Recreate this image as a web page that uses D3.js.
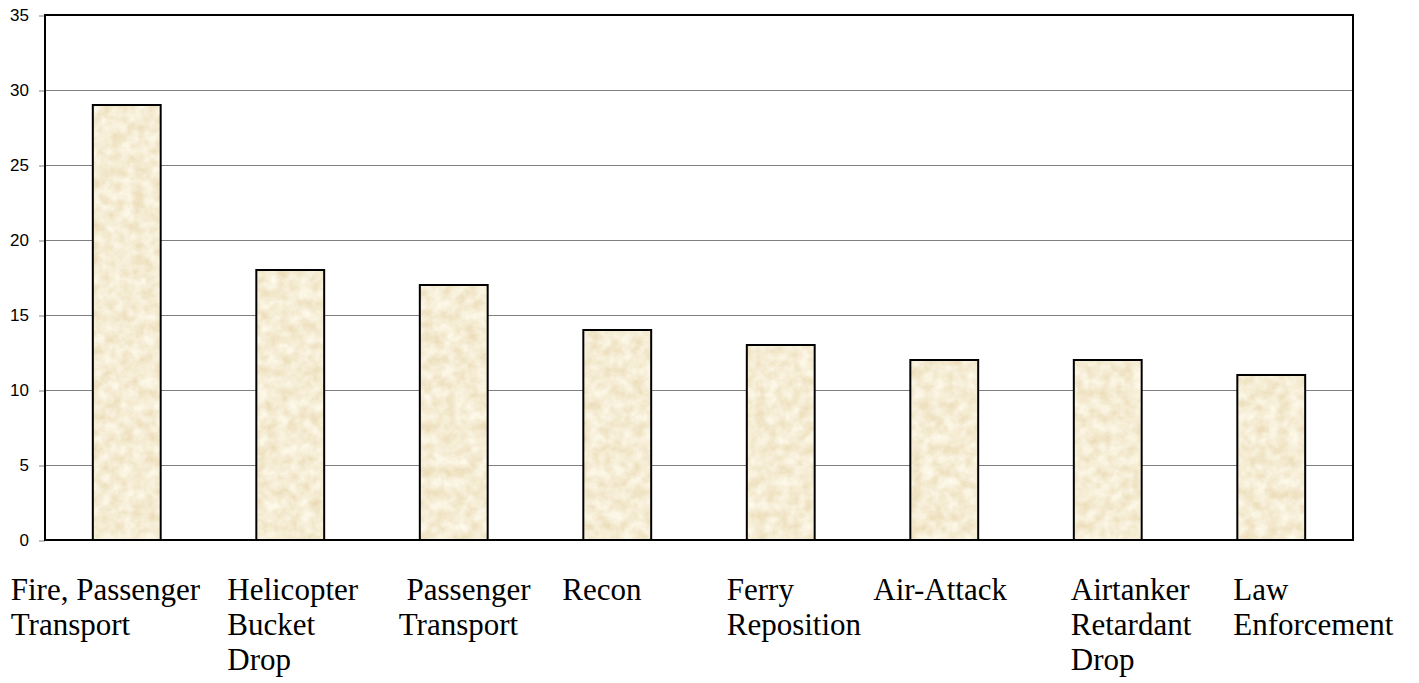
<!DOCTYPE html>
<html>
<head>
<meta charset="utf-8">
<script src="https://cdn.jsdelivr.net/npm/d3@7"></script>
<style>
  html, body { margin: 0; padding: 0; background: #ffffff; }
  svg { display: block; }
</style>
</head>
<body>
<svg id="chart" width="1419" height="683"></svg>
<script>
// ---- data ----
const categories = [
  ["Fire, Passenger", "Transport"],
  ["Helicopter", "Bucket", "Drop"],
  ["\u00a0Passenger", "Transport"],
  ["Recon"],
  ["Ferry", "Reposition"],
  ["Air-Attack"],
  ["Airtanker", "Retardant", "Drop"],
  ["Law", "Enforcement"]
];
const values = [29, 18, 17, 14, 13, 12, 12, 11];
const yTicks = [0, 5, 10, 15, 20, 25, 30, 35];

// ---- layout ----
const plot = { left: 45, right: 1353, top: 15, bottom: 540 };
const barFrac = 0.415;
// horizontal shift of each label block relative to its category centre
const labelShift = [-116, -63, -55, -55, -54, -71, -37, -38];

const svg = d3.select("#chart");

const defs = svg.append("defs");
const filt = defs.append("filter").attr("id", "paper")
  .attr("x", 0).attr("y", 0).attr("width", "100%").attr("height", "100%")
  .attr("filterUnits", "objectBoundingBox");
filt.append("feTurbulence").attr("type", "fractalNoise")
  .attr("baseFrequency", "0.09").attr("numOctaves", 4).attr("seed", 11).attr("result", "n");
filt.append("feColorMatrix").attr("in", "n").attr("type", "matrix")
  .attr("values", "0.2 0 0 0 0.815  0.32 0 0 0 0.68  0.48 0 0 0 0.42  0 0 0 0 1")
  .attr("result", "c");
filt.append("feComposite").attr("in", "c").attr("in2", "SourceAlpha").attr("operator", "in");

const x = d3.scaleBand()
  .domain(d3.range(categories.length))
  .range([plot.left, plot.right])
  .padding(0);

const y = d3.scaleLinear().domain([0, 35]).range([plot.bottom, plot.top]);

// gridlines
svg.append("g").selectAll("line")
  .data(yTicks.filter(t => t > 0 && t < 35))
  .join("line")
  .attr("x1", plot.left).attr("x2", plot.right)
  .attr("y1", d => y(d) + 0.5).attr("y2", d => y(d) + 0.5)
  .attr("stroke", "#808080").attr("stroke-width", 1);

// y axis ticks & labels
const yAxis = d3.axisLeft(y).tickValues(yTicks).tickSize(6).tickPadding(10);
const gy = svg.append("g").attr("transform", `translate(${plot.left},0.5)`).call(yAxis);
gy.select(".domain").remove();
gy.selectAll(".tick line").attr("stroke", "#808080");
gy.selectAll(".tick text")
  .attr("font-family", "Liberation Sans, Arial, sans-serif")
  .attr("font-size", 17).attr("fill", "#000");

// bars
const bw = x.bandwidth() * barFrac;
const bars = svg.append("g");
bars.selectAll("rect.fill")
  .data(values)
  .join("rect").attr("class", "fill")
  .attr("x", (d, i) => x(i) + x.bandwidth() / 2 - bw / 2)
  .attr("y", d => y(d))
  .attr("width", bw)
  .attr("height", d => y(0) - y(d))
  .attr("fill", "#ecdab0")
  .attr("filter", "url(#paper)");
bars.selectAll("rect.edge")
  .data(values)
  .join("rect").attr("class", "edge")
  .attr("x", (d, i) => x(i) + x.bandwidth() / 2 - bw / 2)
  .attr("y", d => y(d))
  .attr("width", bw)
  .attr("height", d => y(0) - y(d))
  .attr("fill", "none")
  .attr("stroke", "#000").attr("stroke-width", 2);

// frame
svg.append("rect")
  .attr("x", plot.left).attr("y", plot.top)
  .attr("width", plot.right - plot.left).attr("height", plot.bottom - plot.top)
  .attr("fill", "none").attr("stroke", "#000").attr("stroke-width", 2);

// category labels
const lab = svg.append("g")
  .attr("font-family", "Liberation Serif, Times New Roman, serif")
  .attr("font-size", 31).attr("fill", "#000");
categories.forEach((lines, i) => {
  const t = lab.append("text")
    .attr("x", x(i) + x.bandwidth() / 2 + labelShift[i])
    .attr("y", 600);
  lines.forEach((ln, j) => {
    t.append("tspan")
      .attr("x", x(i) + x.bandwidth() / 2 + labelShift[i])
      .attr("dy", j === 0 ? 0 : 35)
      .text(ln);
  });
});
</script>
</body>
</html>
